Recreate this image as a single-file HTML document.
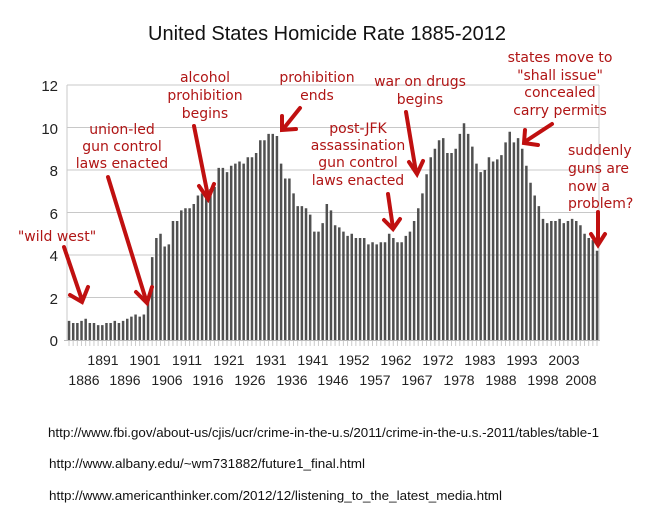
<!DOCTYPE html>
<html><head><meta charset="utf-8"><style>
body{margin:0;background:#fff;width:652px;height:523px;overflow:hidden}
svg{display:block}
.t{font-family:"Liberation Sans",sans-serif}
.a{font-family:"DejaVu Sans",sans-serif;fill:#b01515;font-size:14px;text-anchor:middle}
</style></head><body>
<svg id="s" width="652" height="523" xmlns="http://www.w3.org/2000/svg">
<rect width="652" height="523" fill="#fff"/>
<text class="t" x="327" y="40" font-size="20" text-anchor="middle" fill="#111">United States Homicide Rate 1885-2012</text>
<g id="grid" stroke="#c8c8c8" stroke-width="1"></g>
<g id="bars" fill="#505050"></g>
<g class="t" font-size="15" fill="#222" text-anchor="end">
<text x="58" y="91">12</text><text x="58" y="134">10</text><text x="58" y="176">8</text><text x="58" y="219">6</text><text x="58" y="261">4</text><text x="58" y="304">2</text><text x="58" y="346">0</text>
</g>
<g class="t" font-size="14" fill="#222" text-anchor="middle">
<text x="103" y="365">1891</text><text x="145" y="365">1901</text><text x="187" y="365">1911</text><text x="229" y="365">1921</text><text x="271" y="365">1931</text><text x="313" y="365">1941</text><text x="354" y="365">1952</text><text x="396" y="365">1962</text><text x="438" y="365">1972</text><text x="480" y="365">1983</text><text x="522" y="365">1993</text><text x="564" y="365">2003</text>
<text x="84" y="385">1886</text><text x="125" y="385">1896</text><text x="167" y="385">1906</text><text x="208" y="385">1916</text><text x="250" y="385">1926</text><text x="292" y="385">1936</text><text x="333" y="385">1946</text><text x="375" y="385">1957</text><text x="417" y="385">1967</text><text x="459" y="385">1978</text><text x="501" y="385">1988</text><text x="543" y="385">1998</text><text x="581" y="385">2008</text>
</g>
<g class="a">
<text x="57" y="241">"wild west"</text>
<text x="122" y="134">union-led</text><text x="122" y="151">gun control</text><text x="122" y="168">laws enacted</text>
<text x="205" y="82">alcohol</text><text x="205" y="100">prohibition</text><text x="205" y="118">begins</text>
<text x="317" y="82">prohibition</text><text x="317" y="100">ends</text>
<text x="358" y="133">post-JFK</text><text x="358" y="150">assassination</text><text x="358" y="167">gun control</text><text x="358" y="185">laws enacted</text>
<text x="420" y="86">war on drugs</text><text x="420" y="104">begins</text>
<text x="560" y="62">states move to</text><text x="560" y="80">"shall issue"</text><text x="560" y="97">concealed</text><text x="560" y="115">carry permits</text>
<text x="568" y="155" text-anchor="start">suddenly</text><text x="568" y="173" text-anchor="start">guns are</text><text x="568" y="191" text-anchor="start">now a</text><text x="568" y="208" text-anchor="start">problem?</text>
</g>
<g stroke="#c01010" stroke-width="4" fill="none" stroke-linecap="round">
<path d="M64 247 L82 300"/><path d="M70 295 L82 302 L88 287"/>
<path d="M108 177 L146 300"/><path d="M136 292 L147 303 L152 287"/>
<path d="M194 126 L208 196"/><path d="M199 186 L208 199 L214 184"/>
<path d="M300 108 L284 128"/><path d="M282 116 L282 130 L296 129"/>
<path d="M388 194 L393 228"/><path d="M384 220 L393 229 L400 219"/>
<path d="M406 112 L416 172"/><path d="M409 162 L417 174 L423 161"/>
<path d="M552 124 L526 141"/><path d="M525 130 L524 143 L538 145"/>
<path d="M598 212 L598 243"/><path d="M591 234 L598 245 L605 234"/>
</g>
<g class="t" font-size="13" fill="#111">
<text x="48" y="437" textLength="551" lengthAdjust="spacingAndGlyphs">http://www.fbi.gov/about-us/cjis/ucr/crime-in-the-u.s/2011/crime-in-the-u.s.-2011/tables/table-1</text>
<text x="49" y="468" textLength="316" lengthAdjust="spacingAndGlyphs">http://www.albany.edu/~wm731882/future1_final.html</text>
<text x="49" y="500" textLength="453" lengthAdjust="spacingAndGlyphs">http://www.americanthinker.com/2012/12/listening_to_the_latest_media.html</text>
</g>
</svg>
<script>
var d=[0.9,0.8,0.8,0.9,1.0,0.8,0.8,0.7,0.7,0.8,0.8,0.9,0.8,0.9,1.0,1.1,1.2,1.1,1.2,1.9,3.9,4.8,5.0,4.4,4.5,5.6,5.6,6.1,6.2,6.2,6.4,6.8,6.9,6.8,7.1,7.2,8.1,8.1,7.9,8.2,8.3,8.4,8.3,8.6,8.6,8.8,9.4,9.4,9.7,9.7,9.6,8.3,7.6,7.6,6.9,6.3,6.3,6.2,5.9,5.1,5.1,5.5,6.4,6.1,5.4,5.3,5.1,4.9,5.0,4.8,4.8,4.8,4.5,4.6,4.5,4.6,4.6,5.0,4.8,4.6,4.6,4.9,5.1,5.6,6.2,6.9,7.8,8.6,9.0,9.4,9.5,8.8,8.8,9.0,9.7,10.2,9.7,9.1,8.3,7.9,8.0,8.6,8.4,8.5,8.7,9.3,9.8,9.3,9.5,9.0,8.2,7.4,6.8,6.3,5.7,5.5,5.6,5.6,5.7,5.5,5.6,5.7,5.6,5.4,5.0,4.8,4.7,4.2];
var ns="http://www.w3.org/2000/svg",g=document.getElementById('grid'),b=document.getElementById('bars');
function el(p,t,a){var e=document.createElementNS(ns,t);for(var k in a)e.setAttribute(k,a[k]);p.appendChild(e);}
for(var i=0;i<6;i++){var y=85+i*42.5;el(g,'line',{x1:67,x2:599,y1:y,y2:y});}
el(g,'line',{x1:67,x2:67,y1:85,y2:340});el(g,'line',{x1:599,x2:599,y1:85,y2:340});
el(g,'line',{x1:64,x2:600,y1:340.5,y2:340.5,stroke:'#bbb'});
var n=d.length,sp=(597-69)/(n-1);
for(var i=0;i<n;i++){var x=69+i*sp,h=d[i]*21.25;el(b,'rect',{x:x-1.2,y:340-h,width:2.5,height:h});el(g,'line',{x1:x,x2:x,y1:341,y2:346,stroke:'#ccc'});}
</script>
</body></html>
